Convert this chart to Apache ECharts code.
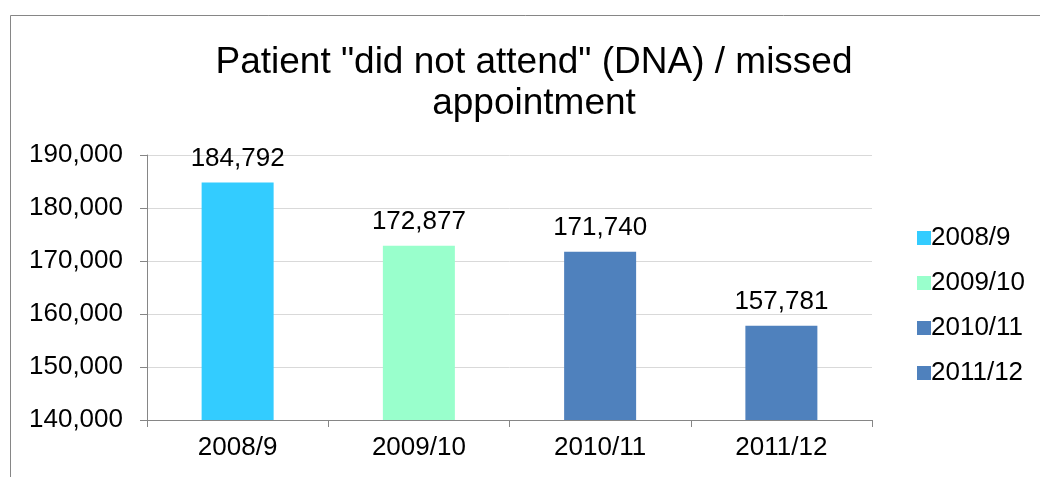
<!DOCTYPE html>
<html><head><meta charset="utf-8">
<script src="https://cdn.jsdelivr.net/npm/echarts@6/dist/echarts.min.js"></script>
<style>html,body{margin:0;padding:0;background:#fff}#c{width:1040px;height:477px}</style>
</head><body><div id="c"></div>
<script>
var categories = ['2008/9', '2009/10', '2010/11', '2011/12'];
var values = [184792, 172877, 171740, 157781];
var colors = ['#33CCFF', '#99FFCC', '#4F81BD', '#4F81BD'];
var yTicks = [140000, 150000, 160000, 170000, 180000, 190000];

var font = 'Liberation Sans, Arial, sans-serif';
function fmt(v) { return String(v).replace(/\B(?=(\d{3})+(?!\d))/g, ','); }

var series = categories.map(function (name, i) {
  return {
    name: name,
    type: 'bar',
    stack: 'all',
    barWidth: 72,
    data: categories.map(function (c, j) { return j === i ? values[i] : '-'; }),
    itemStyle: { color: colors[i] },
    label: {
      show: true, position: 'top', distance: 11,
      fontFamily: font, fontSize: 26, color: '#000',
      formatter: function (p) { return fmt(p.value); }
    }
  };
});

var chart = echarts.init(document.getElementById('c'));
chart.setOption({
  animation: false,
  backgroundColor: '#fff',
  title: {
    text: 'Patient "did not attend" (DNA) / missed\nappointment',
    left: 529, top: 37, textAlign: 'center',
    textStyle: { fontFamily: font, fontSize: 37, fontWeight: 'normal', color: '#000', lineHeight: 41 }
  },
  legend: {
    orient: 'vertical', left: 912, top: 220,
    itemWidth: 14, itemHeight: 14, itemGap: 19,
    icon: 'rect',
    textStyle: { fontFamily: font, fontSize: 26, color: '#000', padding: [0, 0, 0, -5] },
    data: categories
  },
  grid: { left: 147, right: 168, top: 155, bottom: 57 },
  xAxis: {
    type: 'category', data: categories,
    axisLine: { lineStyle: { color: '#868686', width: 1 } },
    axisTick: { show: true, length: 7, lineStyle: { color: '#868686' } },
    axisLabel: { fontFamily: font, fontSize: 26, color: '#000', margin: 15 }
  },
  yAxis: {
    type: 'value', min: yTicks[0], max: yTicks[yTicks.length - 1], interval: 10000,
    axisLine: { show: true, lineStyle: { color: '#868686', width: 1 } },
    axisTick: { show: true, length: 7, lineStyle: { color: '#868686' } },
    splitLine: { lineStyle: { color: '#D9D9D9', width: 1 } },
    axisLabel: { fontFamily: font, fontSize: 26, color: '#000', margin: 24, formatter: function (v) { return fmt(v); } }
  },
  graphic: [{
    type: 'rect', shape: { x: 10.5, y: 15.5, width: 1100, height: 600 },
    style: { fill: 'none', stroke: '#868686', lineWidth: 1 }, silent: true, z: -1
  }],
  series: series
});
</script></body></html>
